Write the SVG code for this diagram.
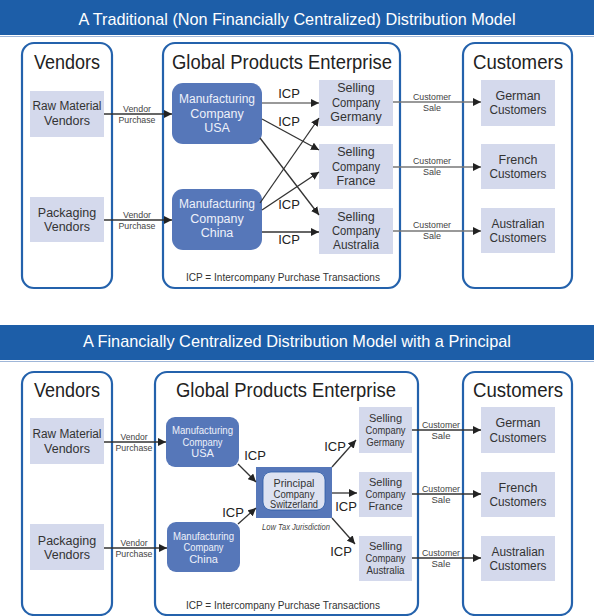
<svg xmlns="http://www.w3.org/2000/svg" width="594" height="616" viewBox="0 0 594 616">
<style>
text{font-family:"Liberation Sans",Arial,sans-serif;fill:#333;text-anchor:middle}
.banner{fill:#1d5ea8}
.title{fill:#fff;font-size:17px}
.panel{fill:#fff;stroke:#2462ac;stroke-width:2.2}
.hdr{font-size:20px;fill:#222}
.lb{fill:#d4d9ec}
.lbt{font-size:12.5px;fill:#333}
.mfg{fill:#5677b9}
.mft{font-size:12.5px;fill:#eef1fa}
.mfs{font-size:11px;fill:#eef1fa}
.sm{font-size:11px}
.tiny{font-size:9px;fill:#444}
.icp{font-size:13px;fill:#222}
.note{font-size:10.5px;fill:#333}
.ln{stroke:#333;stroke-width:1.3;fill:none;marker-end:url(#ah)}
.lg{stroke:#777;stroke-width:1.6;fill:none;marker-end:url(#ah)}
</style>
<defs>
<marker id="ah" viewBox="0 0 10 10" refX="10" refY="5" markerWidth="8" markerHeight="8" markerUnits="userSpaceOnUse" orient="auto">
<path d="M0,0 L10,5 L0,10 z" fill="#222"/>
</marker>
</defs>
<rect width="594" height="616" fill="#fff"/>

<!-- Top section -->
<g id="top-banner">
<rect class="banner" x="0" y="0" width="594" height="35"/>
<line x1="0" y1="36.5" x2="594" y2="36.5" stroke="#9fb6d8" stroke-width="1"/>
<text class="title" x="297" y="25" textLength="437" lengthAdjust="spacingAndGlyphs">A Traditional (Non Financially Centralized) Distribution Model</text>
</g>

<g id="t-vendors-panel">
<rect class="panel" x="22" y="43" width="90" height="245" rx="12"/>
<text class="hdr" x="67" y="69" textLength="66" lengthAdjust="spacingAndGlyphs">Vendors</text>
</g>
<g id="t-enterprise-panel">
<rect class="panel" x="163" y="43" width="237" height="245" rx="12"/>
<text class="hdr" x="282" y="69" textLength="220" lengthAdjust="spacingAndGlyphs">Global Products Enterprise</text>
<text class="note" x="283" y="281" textLength="194" lengthAdjust="spacingAndGlyphs">ICP = Intercompany Purchase Transactions</text>
</g>
<g id="t-customers-panel">
<rect class="panel" x="463" y="43" width="109" height="245" rx="12"/>
<text class="hdr" x="518" y="69" textLength="90" lengthAdjust="spacingAndGlyphs">Customers</text>
</g>

<g id="t-raw">
<rect class="lb" x="30" y="91" width="74" height="46"/>
<text class="lbt" x="67" y="110" textLength="69" lengthAdjust="spacingAndGlyphs">Raw Material</text>
<text class="lbt" x="67" y="125">Vendors</text>
</g>
<g id="t-pack">
<rect class="lb" x="30" y="197" width="74" height="45"/>
<text class="lbt" x="67" y="217">Packaging</text>
<text class="lbt" x="67" y="231">Vendors</text>
</g>
<g id="t-mfg-usa">
<rect class="mfg" x="172" y="83" width="90" height="61" rx="11"/>
<text class="mft" x="217" y="103" textLength="76" lengthAdjust="spacingAndGlyphs">Manufacturing</text>
<text class="mft" x="217" y="118">Company</text>
<text class="mft" x="217" y="132">USA</text>
</g>
<g id="t-mfg-china">
<rect class="mfg" x="172" y="189" width="90" height="61" rx="11"/>
<text class="mft" x="217" y="208" textLength="76" lengthAdjust="spacingAndGlyphs">Manufacturing</text>
<text class="mft" x="217" y="223">Company</text>
<text class="mft" x="217" y="237">China</text>
</g>
<g id="t-sell-de">
<rect class="lb" x="319" y="80" width="74" height="46"/>
<text class="lbt" x="356" y="92">Selling</text>
<text class="lbt" x="356" y="107" textLength="48" lengthAdjust="spacingAndGlyphs">Company</text>
<text class="lbt" x="356" y="121">Germany</text>
</g>
<g id="t-sell-fr">
<rect class="lb" x="319" y="144" width="74" height="45"/>
<text class="lbt" x="356" y="156">Selling</text>
<text class="lbt" x="356" y="171" textLength="48" lengthAdjust="spacingAndGlyphs">Company</text>
<text class="lbt" x="356" y="185">France</text>
</g>
<g id="t-sell-au">
<rect class="lb" x="319" y="208" width="74" height="46"/>
<text class="lbt" x="356" y="221">Selling</text>
<text class="lbt" x="356" y="235" textLength="48" lengthAdjust="spacingAndGlyphs">Company</text>
<text class="lbt" x="356" y="249" textLength="46" lengthAdjust="spacingAndGlyphs">Australia</text>
</g>
<g id="t-cust-de">
<rect class="lb" x="481" y="80" width="74" height="46"/>
<text class="lbt" x="518" y="100">German</text>
<text class="lbt" x="518" y="114" textLength="57" lengthAdjust="spacingAndGlyphs">Customers</text>
</g>
<g id="t-cust-fr">
<rect class="lb" x="481" y="144" width="74" height="45"/>
<text class="lbt" x="518" y="164">French</text>
<text class="lbt" x="518" y="178" textLength="57" lengthAdjust="spacingAndGlyphs">Customers</text>
</g>
<g id="t-cust-au">
<rect class="lb" x="481" y="208" width="74" height="45"/>
<text class="lbt" x="518" y="228" textLength="53" lengthAdjust="spacingAndGlyphs">Australian</text>
<text class="lbt" x="518" y="242" textLength="57" lengthAdjust="spacingAndGlyphs">Customers</text>
</g>

<g id="t-connectors">
<line class="ln" x1="104" y1="114" x2="172" y2="114"/>
<line class="ln" x1="104" y1="220" x2="172" y2="220"/>
<line class="lg" x1="262" y1="103" x2="319" y2="103"/>
<line class="ln" x1="262" y1="119" x2="319" y2="150"/>
<line class="ln" x1="260" y1="138" x2="319" y2="215"/>
<line class="ln" x1="260" y1="203" x2="319" y2="118"/>
<line class="ln" x1="262" y1="210" x2="319" y2="172"/>
<line class="ln" x1="262" y1="232" x2="319" y2="232"/>
<line class="lg" x1="393" y1="102" x2="481" y2="102"/>
<line class="lg" x1="393" y1="167" x2="481" y2="167"/>
<line class="lg" x1="393" y1="231" x2="481" y2="231"/>
<text class="tiny" x="137" y="112" textLength="28" lengthAdjust="spacingAndGlyphs">Vendor</text>
<text class="tiny" x="137" y="123" textLength="37" lengthAdjust="spacingAndGlyphs">Purchase</text>
<text class="tiny" x="137" y="218" textLength="28" lengthAdjust="spacingAndGlyphs">Vendor</text>
<text class="tiny" x="137" y="229" textLength="37" lengthAdjust="spacingAndGlyphs">Purchase</text>
<text class="icp" x="289" y="98">ICP</text>
<text class="icp" x="289" y="126">ICP</text>
<text class="icp" x="289" y="209">ICP</text>
<text class="icp" x="289" y="244">ICP</text>
<text class="tiny" x="432" y="100" textLength="38" lengthAdjust="spacingAndGlyphs">Customer</text>
<text class="tiny" x="432" y="111">Sale</text>
<text class="tiny" x="432" y="164" textLength="38" lengthAdjust="spacingAndGlyphs">Customer</text>
<text class="tiny" x="432" y="175">Sale</text>
<text class="tiny" x="432" y="228" textLength="38" lengthAdjust="spacingAndGlyphs">Customer</text>
<text class="tiny" x="432" y="239">Sale</text>
</g>

<!-- Bottom section -->
<g id="bottom-banner">
<rect class="banner" x="0" y="325" width="594" height="35"/>
<line x1="0" y1="361.5" x2="594" y2="361.5" stroke="#9fb6d8" stroke-width="1"/>
<text class="title" x="297" y="347" textLength="428" lengthAdjust="spacingAndGlyphs">A Financially Centralized Distribution Model with a Principal</text>
</g>

<g id="b-vendors-panel">
<rect class="panel" x="22" y="372" width="90" height="243" rx="12"/>
<text class="hdr" x="67" y="397" textLength="66" lengthAdjust="spacingAndGlyphs">Vendors</text>
</g>
<g id="b-enterprise-panel">
<rect class="panel" x="155" y="372" width="263" height="243" rx="12"/>
<text class="hdr" x="286" y="397" textLength="220" lengthAdjust="spacingAndGlyphs">Global Products Enterprise</text>
<text class="note" x="283" y="609" textLength="194" lengthAdjust="spacingAndGlyphs">ICP = Intercompany Purchase Transactions</text>
</g>
<g id="b-customers-panel">
<rect class="panel" x="463" y="372" width="109" height="243" rx="12"/>
<text class="hdr" x="518" y="397" textLength="90" lengthAdjust="spacingAndGlyphs">Customers</text>
</g>

<g id="b-raw">
<rect class="lb" x="30" y="418" width="74" height="46"/>
<text class="lbt" x="67" y="438" textLength="69" lengthAdjust="spacingAndGlyphs">Raw Material</text>
<text class="lbt" x="67" y="453">Vendors</text>
</g>
<g id="b-pack">
<rect class="lb" x="30" y="524" width="74" height="46"/>
<text class="lbt" x="67" y="545">Packaging</text>
<text class="lbt" x="67" y="559">Vendors</text>
</g>
<g id="b-mfg-usa">
<rect class="mfg" x="166" y="417" width="73" height="50" rx="9"/>
<text class="mfs" x="202.5" y="434" textLength="61" lengthAdjust="spacingAndGlyphs">Manufacturing</text>
<text class="mfs" x="202.5" y="446" textLength="40" lengthAdjust="spacingAndGlyphs">Company</text>
<text class="mfs" x="202.5" y="457">USA</text>
</g>
<g id="b-mfg-china">
<rect class="mfg" x="167" y="522" width="73" height="50" rx="9"/>
<text class="mfs" x="203.5" y="540" textLength="61" lengthAdjust="spacingAndGlyphs">Manufacturing</text>
<text class="mfs" x="203.5" y="551" textLength="40" lengthAdjust="spacingAndGlyphs">Company</text>
<text class="mfs" x="203.5" y="563">China</text>
</g>
<g id="b-principal">
<rect class="mfg" x="256" y="467" width="76" height="51"/>
<rect x="263" y="472" width="62" height="38" rx="8" fill="#dde2f1" stroke="#2c5ca6" stroke-width="0.8"/>
<text x="294" y="487" style="font-size:10px" textLength="41" lengthAdjust="spacingAndGlyphs">Principal</text>
<text x="294" y="498" style="font-size:10px" textLength="41" lengthAdjust="spacingAndGlyphs">Company</text>
<text x="294" y="508" style="font-size:10px" textLength="48" lengthAdjust="spacingAndGlyphs">Switzerland</text>
<text x="296" y="530" style="font-size:8.5px;font-style:italic;fill:#444" textLength="68" lengthAdjust="spacingAndGlyphs">Low Tax Jurisdiction</text>
</g>
<g id="b-sell-de">
<rect class="lb" x="359" y="407" width="53" height="46"/>
<text class="sm" x="385.5" y="422">Selling</text>
<text class="sm" x="385.5" y="434" textLength="40" lengthAdjust="spacingAndGlyphs">Company</text>
<text class="sm" x="385.5" y="446" textLength="38" lengthAdjust="spacingAndGlyphs">Germany</text>
</g>
<g id="b-sell-fr">
<rect class="lb" x="359" y="472" width="53" height="45"/>
<text class="sm" x="385.5" y="486">Selling</text>
<text class="sm" x="385.5" y="498" textLength="40" lengthAdjust="spacingAndGlyphs">Company</text>
<text class="sm" x="385.5" y="510">France</text>
</g>
<g id="b-sell-au">
<rect class="lb" x="359" y="536" width="53" height="45"/>
<text class="sm" x="385.5" y="550">Selling</text>
<text class="sm" x="385.5" y="562" textLength="40" lengthAdjust="spacingAndGlyphs">Company</text>
<text class="sm" x="385.5" y="574" textLength="38" lengthAdjust="spacingAndGlyphs">Australia</text>
</g>
<g id="b-cust-de">
<rect class="lb" x="481" y="407" width="74" height="46"/>
<text class="lbt" x="518" y="427">German</text>
<text class="lbt" x="518" y="442" textLength="57" lengthAdjust="spacingAndGlyphs">Customers</text>
</g>
<g id="b-cust-fr">
<rect class="lb" x="481" y="472" width="74" height="45"/>
<text class="lbt" x="518" y="492">French</text>
<text class="lbt" x="518" y="506" textLength="57" lengthAdjust="spacingAndGlyphs">Customers</text>
</g>
<g id="b-cust-au">
<rect class="lb" x="481" y="536" width="74" height="45"/>
<text class="lbt" x="518" y="556" textLength="53" lengthAdjust="spacingAndGlyphs">Australian</text>
<text class="lbt" x="518" y="570" textLength="57" lengthAdjust="spacingAndGlyphs">Customers</text>
</g>

<g id="b-connectors">
<line class="ln" x1="104" y1="442" x2="166" y2="442"/>
<line class="ln" x1="104" y1="548" x2="167" y2="548"/>
<line class="ln" x1="238" y1="464" x2="256" y2="482"/>
<line class="ln" x1="238" y1="524" x2="256" y2="508"/>
<line class="ln" x1="332" y1="467" x2="356" y2="440"/>
<line class="ln" x1="332" y1="493" x2="357" y2="493"/>
<line class="ln" x1="332" y1="518" x2="355" y2="544"/>
<line class="ln" x1="412" y1="430" x2="481" y2="430"/>
<line class="ln" x1="412" y1="494" x2="481" y2="494"/>
<line class="ln" x1="412" y1="558" x2="481" y2="558"/>
<text class="tiny" x="134" y="440" style="font-size:9.5px" textLength="27" lengthAdjust="spacingAndGlyphs">Vendor</text>
<text class="tiny" x="134" y="451" style="font-size:9.5px" textLength="37" lengthAdjust="spacingAndGlyphs">Purchase</text>
<text class="tiny" x="134" y="546" style="font-size:9.5px" textLength="27" lengthAdjust="spacingAndGlyphs">Vendor</text>
<text class="tiny" x="134" y="557" style="font-size:9.5px" textLength="37" lengthAdjust="spacingAndGlyphs">Purchase</text>
<text class="icp" x="255" y="460">ICP</text>
<text class="icp" x="233" y="517">ICP</text>
<text class="icp" x="335" y="451">ICP</text>
<text class="icp" x="346" y="511">ICP</text>
<text class="icp" x="341" y="556">ICP</text>
<text class="tiny" x="441" y="428" style="font-size:9.5px" textLength="38" lengthAdjust="spacingAndGlyphs">Customer</text>
<text class="tiny" x="441" y="439" style="font-size:9.5px">Sale</text>
<text class="tiny" x="441" y="492" style="font-size:9.5px" textLength="38" lengthAdjust="spacingAndGlyphs">Customer</text>
<text class="tiny" x="441" y="503" style="font-size:9.5px">Sale</text>
<text class="tiny" x="441" y="556" style="font-size:9.5px" textLength="38" lengthAdjust="spacingAndGlyphs">Customer</text>
<text class="tiny" x="441" y="567" style="font-size:9.5px">Sale</text>
</g>
</svg>
